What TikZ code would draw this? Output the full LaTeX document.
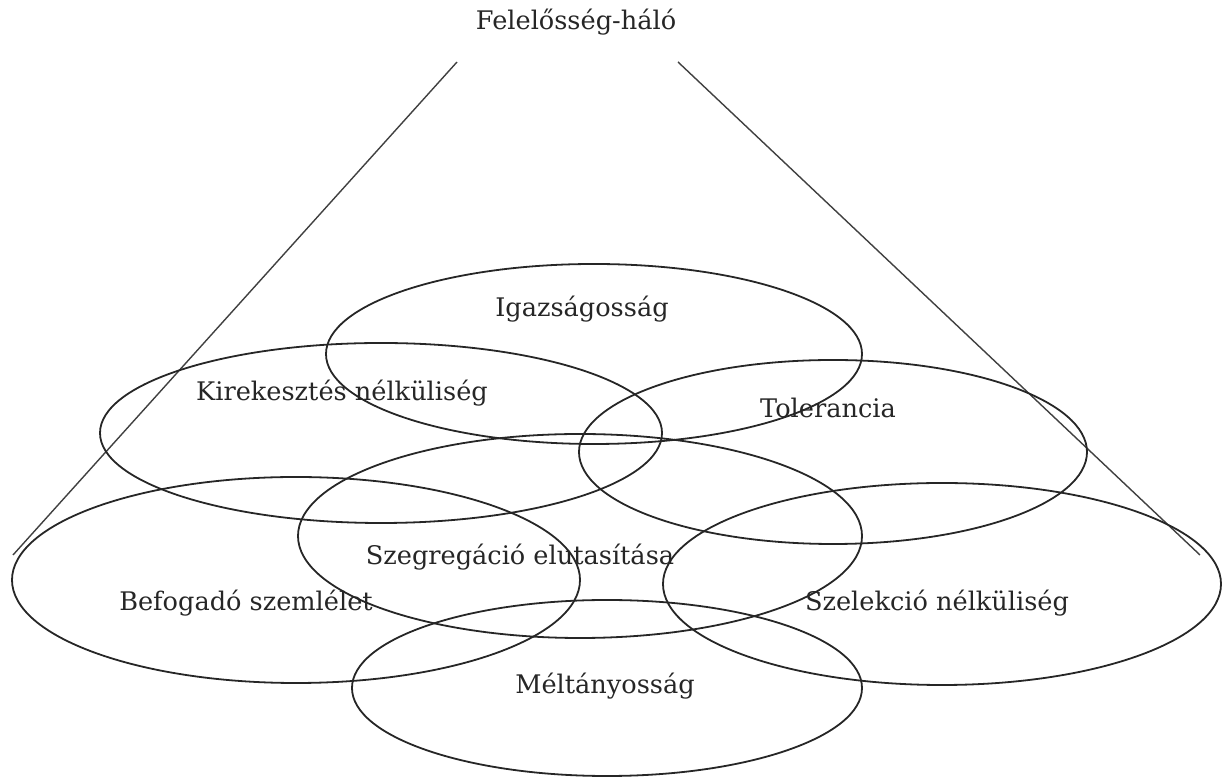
\documentclass[tikz,border=0pt]{standalone}
\usepackage{fontspec}
\setmainfont{DejaVu Serif}
\tikzset{
  cone/.style={black!75, line width=.7pt},
  ring/.style={black!85, line width=.9pt},
  lbl/.style={inner sep=0pt, font=\fontsize{12.8}{15}\selectfont, text=black!85},
}
\begin{document}
\begin{tikzpicture}[x=.5pt, y=-.5pt]
				\useasboundingbox (0,0) rectangle (1222,779);
				\coordinate (l0) at (457,62);
				\coordinate (l1) at (13,555);
				\coordinate (r0) at (678,62);
				\coordinate (r1) at (1200,555);
				%
				\node[lbl] (halo) at (576,22) {Felelősség-háló};
				\draw[cone] (l0) -- (l1);
				\draw[cone] (r0) -- (r1);
				%
				\foreach \cx/\cy/\rx/\ry in {594/354/268/90, 381/433/281/90, 833/452/254/92,
						580/536/282/102, 296/580/284/103, 942/584/279/101, 607/688/255/88}
				\draw[ring] (\cx,\cy) ellipse [x radius=\rx, y radius=\ry];
				%
				\node[lbl] (igaz) at (582,309) {Igazságosság};
				\node[lbl] (kirek) at (342,393) {Kirekesztés nélküliség};
				\node[lbl] (toler) at (828,408) {Tolerancia};
				\node[lbl] (szegr) at (520,557) {Szegregáció elutasítása};
				\node[lbl] (befog) at (246,603) {Befogadó szemlélet};
				\node[lbl] (szel) at (937,603) {Szelekció nélküliség};
				\node[lbl] (melt) at (605,686) {Méltányosság};
			\end{tikzpicture}
\end{document}
